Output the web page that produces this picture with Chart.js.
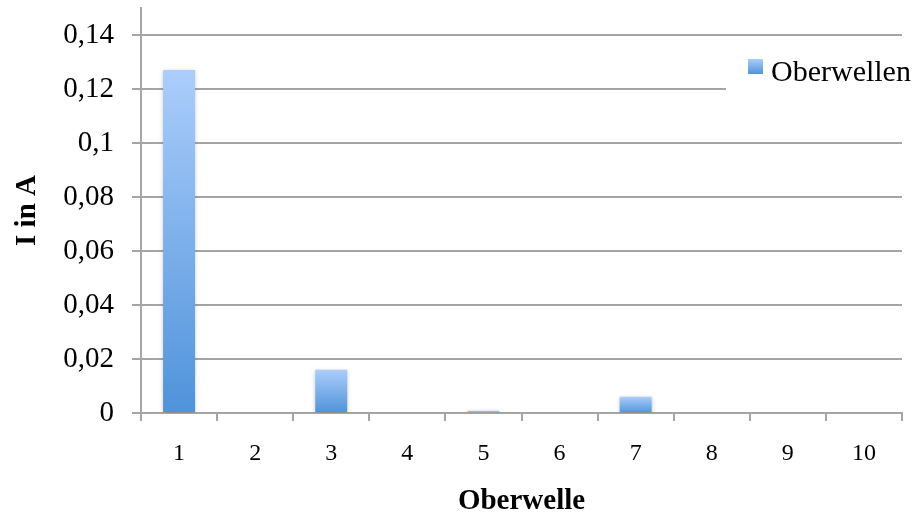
<!DOCTYPE html>
<html>
<head>
<meta charset="utf-8">
<title>Oberwellen</title>
<script src="https://cdn.jsdelivr.net/npm/chart.js@4/dist/chart.umd.min.js"></script>
<style>
  html, body { margin: 0; padding: 0; background: #ffffff; }
  canvas { display: block; }
</style>
</head>
<body>
<canvas id="chart" width="915" height="519"></canvas>
<script>
// Harmonic order (x axis)
const categories = ['1', '2', '3', '4', '5', '6', '7', '8', '9', '10'];
// Current per harmonic in A
const current = [0.127, 0, 0.016, 0, 0.0008, 0, 0.006, 0, 0, 0];
// Value axis ticks and their labels (German decimal comma)
const yTickValues = [0, 0.02, 0.04, 0.06, 0.08, 0.1, 0.12, 0.14];
const yTickLabels = ['0', '0,02', '0,04', '0,06', '0,08', '0,1', '0,12', '0,14'];

const SERIF = '"Liberation Serif", "Times New Roman", serif';
const AXIS_GREY = '#a5a5a5';
const BAR_LIGHT = '#abcdfb';
const BAR_DARK = '#4f93da';

// Vertical gradient spanning each bar from its top to the zero line
function barFill(ctx) {
  const chart = ctx.chart;
  const y = chart.scales && chart.scales.y;
  if (ctx.type !== 'data' || !y) return BAR_DARK;
  const top = y.getPixelForValue(ctx.raw);
  const base = y.getPixelForValue(0);
  if (!isFinite(top) || !isFinite(base) || base - top < 1) return BAR_DARK;
  const g = chart.ctx.createLinearGradient(0, top, 0, base);
  g.addColorStop(0, BAR_LIGHT);
  g.addColorStop(1, BAR_DARK);
  return g;
}

// Soft drop shadow under the bars
const barShadow = {
  id: 'barShadow',
  beforeDatasetsDraw(chart) {
    const c = chart.ctx;
    c.save();
    c.shadowColor = 'rgba(0,0,0,0.22)';
    c.shadowBlur = 4;
    c.shadowOffsetX = 0;
    c.shadowOffsetY = 1;
  },
  afterDatasetsDraw(chart) {
    chart.ctx.restore();
  }
};

// Legend box in the upper right, painted over the grid
const boxLegend = {
  id: 'boxLegend',
  afterDraw(chart) {
    const c = chart.ctx;
    const label = chart.data.datasets[0].label;
    c.save();
    c.fillStyle = '#ffffff';
    c.fillRect(726, 46, 189, 52);
    const g = c.createLinearGradient(0, 59, 0, 74);
    g.addColorStop(0, BAR_LIGHT);
    g.addColorStop(1, BAR_DARK);
    c.fillStyle = g;
    c.fillRect(748, 59, 15, 15);
    c.fillStyle = '#000000';
    c.font = '30px ' + SERIF;
    c.textAlign = 'left';
    c.textBaseline = 'alphabetic';
    c.fillText(label, 771, 81);
    c.restore();
  }
};

new Chart(document.getElementById('chart'), {
  type: 'bar',
  data: {
    labels: categories,
    datasets: [{
      label: 'Oberwellen',
      data: current,
      backgroundColor: barFill,
      borderWidth: 0,
      categoryPercentage: 1,
      barPercentage: 0.42
    }]
  },
  options: {
    responsive: false,
    animation: false,
    devicePixelRatio: 1,
    layout: { padding: { left: 0, right: 13, top: 8, bottom: 0 } },
    plugins: {
      legend: { display: false },
      tooltip: { enabled: false }
    },
    scales: {
      x: {
        offset: true,
        grid: {
          offset: true,
          drawOnChartArea: false,
          drawTicks: true,
          tickLength: 8,
          color: AXIS_GREY,
          lineWidth: 2
        },
        border: { display: true, color: AXIS_GREY, width: 2 },
        ticks: {
          color: '#000000',
          font: { family: SERIF, size: 24 },
          padding: 18,
          maxRotation: 0,
          autoSkip: false
        },
        title: {
          display: true,
          text: 'Oberwelle',
          color: '#000000',
          font: { family: SERIF, size: 29, weight: 'bold' },
          padding: { top: 0, bottom: 0 }
        },
        afterFit(scale) {
          scale.height = 106;
          scale.paddingLeft = 0;
          scale.paddingRight = 0;
        }
      },
      y: {
        min: 0,
        max: 0.15,
        afterBuildTicks(scale) {
          scale.ticks = yTickValues.map(v => ({ value: v }));
        },
        grid: {
          color: AXIS_GREY,
          lineWidth: 2,
          drawTicks: true,
          tickLength: 9
        },
        border: { display: true, color: AXIS_GREY, width: 2 },
        ticks: {
          color: '#000000',
          font: { family: SERIF, size: 29 },
          padding: 18,
          callback(value) {
            const i = yTickValues.findIndex(v => Math.abs(v - value) < 1e-9);
            return i >= 0 ? yTickLabels[i] : '';
          }
        },
        title: {
          display: true,
          text: 'I in A',
          color: '#000000',
          font: { family: SERIF, size: 29, weight: 'bold' },
          padding: { top: 10, bottom: 0 }
        },
        afterFit(scale) {
          scale.width = 141;
          scale.paddingTop = 0;
          scale.paddingBottom = 0;
        }
      }
    }
  },
  plugins: [barShadow, boxLegend]
});
</script>
</body>
</html>
